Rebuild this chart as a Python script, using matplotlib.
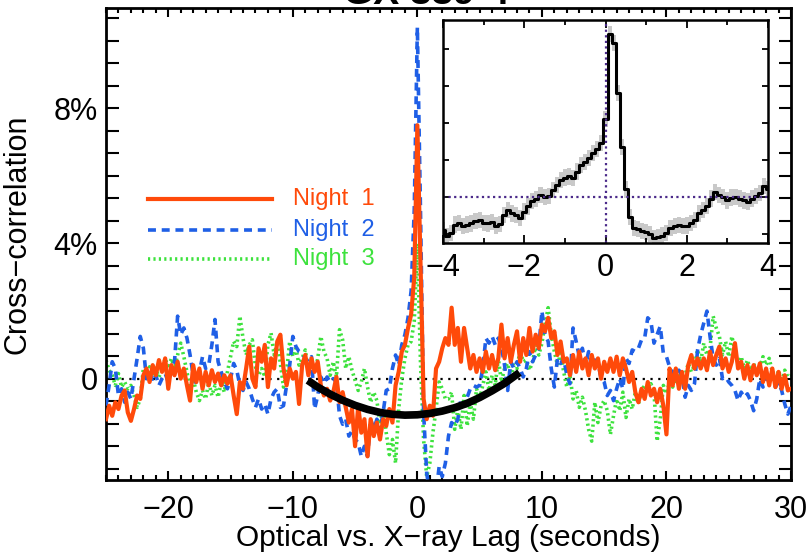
import numpy as np
import matplotlib
matplotlib.use("Agg")
import matplotlib.pyplot as plt
from matplotlib.ticker import MultipleLocator, FixedLocator, NullFormatter

plt.rcParams['font.family'] = ['Liberation Sans', 'DejaVu Sans']

# ---------------- data (cross-correlation, percent) ----------------
lag_start, lag_stop, lag_step = -25.0, 30.0, 0.25
lags = np.arange(lag_start, lag_stop + lag_step / 2, lag_step)

night1 = [
    -1.2, -0.8, -1.1, -0.7, -0.9, -0.5, -0.35, -1.0, -1.25, -0.9, -0.5, -0.6, 0.1, 0.3, -0.1, 0.4, 0.1, 0.55, 0.2, 0.6,
    -0.3, 0.4, 0.1, 0.5, 0.0, 0.3, -0.2, -0.65, 0.4, -0.1, 0.3, -0.3, 0.2, -0.2, 0.25, -0.1, 0.15, -0.2, 0.1, -0.15,
    0.1, -0.5, -1.05, -0.1, -0.3, 0.3, 0.95, 0.0, -0.25, 0.9, 0.5, 1.0, -0.25, 0.6, 0.3, 1.1, 1.3, 0.3, -0.2, 0.3,
    0.0, 0.2, -0.75, 0.4, 0.7, 0.1, 0.6, 0.2, 0.5, -0.2, -0.5, -0.3, -0.65, -0.4, 0.05, -0.7, -0.4, -0.85, -1.3, -0.9,
    -2.0, -0.8, -1.6, -1.2, -2.3, -1.2, -1.7, -1.3, -1.8, -1.2, -1.4, -0.9, -1.3, -0.2, 0.2, 0.8, 1.0, 1.5, 1.9, 3.0,
    7.5, 3.5, -0.6, -1.2, -0.8, -1.1, 0.3, 0.5, 0.9, 1.2, 1.0, 2.1, 1.0, 1.5, 0.5, 1.5, 0.9, 0.3, 0.7, 0.2,
    0.6, 0.2, 0.8, 0.3, 0.7, 0.25, 0.6, 1.6, 0.6, 1.2, 0.5, 1.0, 1.4, 0.5, 1.2, 0.7, 1.5, 0.8, 1.3, 0.9,
    1.6, 1.4, 1.8, 1.2, 1.4, 0.7, 1.1, 0.5, 0.6, 0.1, 0.7, 0.2, 0.8, 0.3, 0.6, 0.1, 0.7, 0.3, 0.6, 0.0,
    0.5, 0.2, 0.6, 0.2, 0.65, 0.1, 0.6, 0.3, -0.1, 0.2, -0.4, -0.7, -0.3, -0.6, -0.1, -0.5, -0.3, -0.7, -0.3, -0.8,
    -1.65, 0.3, -0.2, 0.3, -0.3, 0.2, -0.3, 0.4, 0.7, 0.3, 0.6, 0.3, 0.6, 0.25, 0.8, 0.4, 0.7, 0.95, 0.3, 0.6,
    0.2, 0.5, 1.05, 0.3, 0.5, 0.0, 0.4, -0.05, 0.4, 0.1, 0.45, -0.1, 0.3, -0.2, 0.3, -0.25, 0.2, -0.3, 0.1, -0.35,
    -0.3,
]

night2 = [
    -0.8, -0.2, 0.5, 0.3, -0.5, -0.3, -0.7, -0.4, -0.6, 0.0, 0.6, 1.25, 0.9, 0.0, 0.2, -0.1, 0.1, -0.2, 0.0, 0.15,
    -0.1, 0.2, 0.5, 1.85, 1.3, 1.5, 1.2, 0.7, 0.1, -0.15, 0.2, 0.65, 0.3, 0.4, 1.0, 1.75, 0.5, 0.2, -0.1, -0.3,
    0.0, 0.45, 0.25, -0.2, -0.35, -0.1, -0.3, -0.6, -0.85, -0.6, -0.9, -0.75, -1.05, -0.6, -0.4, -0.3, -0.85, -0.8, -0.2, 0.4,
    1.25, 0.95, 0.8, 0.75, 0.6, 0.5, 0.65, -0.9, -0.5, 0.05, -0.15, 0.05, -0.1, 0.0, -0.1, -1.1, -1.35, -1.2, -1.7, -1.55,
    -1.8, -1.9, -2.3, -2.0, -2.3, -1.2, -1.5, -1.2, -1.55, -1.0, -0.35, -0.3, 0.3, 0.7, 0.4, 1.0, 1.3, 1.8, 2.6, 5.0,
    10.4, 5.0, -1.0, -2.8, -3.4, -3.0, -3.4, -2.6, -2.9, -2.5, -1.7, -1.3, -1.4, -1.2, -0.6, -0.8, -0.55, -0.3, -0.2, -0.25,
    -0.2, 0.3, 1.2, 1.05, 1.25, 1.0, 1.2, 0.95, 0.4, -0.35, 0.5, 0.3, 0.5, 0.3, 0.05, 0.3, 0.8, 0.5, 0.7, 0.9,
    2.0, 1.3, 1.1, 0.3, -0.25, 0.6, 0.45, 0.6, 0.1, -0.15, 1.5, 1.1, 0.65, 0.9, 0.4, 0.8, 0.35, 0.55, 0.5, 0.0,
    -0.1, -0.5, -0.35, -0.65, -0.3, 0.0, -0.3, 0.6, 0.45, 0.85, 0.8, 0.9, 1.15, 1.2, 1.8, 1.7, 1.05, 1.3, 1.55, 0.75,
    0.65, 0.35, 0.2, 0.05, 0.25, 0.1, -0.55, -0.2, -0.35, -0.15, 0.85, 1.3, 1.65, 2.0, 1.25, 0.6, 0.4, 0.6, 0.0, 0.05,
    -0.1, -0.2, -0.35, -0.65, -0.4, -0.55, -0.45, -0.65, -0.95, -0.6, 0.0, -0.25, 0.05, -0.1, 0.1, -0.25, -0.1, -0.35, -0.75, -1.05,
    -0.8,
]

night3 = [
    0.55, 0.25, 0.1, -0.2, 0.15, -0.25, -0.1, -0.3, -0.2, -0.5, -0.85, -0.6, 0.3, 0.05, 0.35, 0.1, 0.3, 0.05, 0.25, 0.6,
    0.3, 0.6, 0.3, 0.7, 1.05, 0.65, 0.2, -0.3, 0.0, -0.4, -0.65, -0.35, -0.6, -0.1, -0.5, -0.2, -0.55, -0.1, -0.4, 0.2,
    0.65, 1.1, 0.95, 1.85, 1.2, 0.7, 1.0, 1.15, 0.35, 0.1, 0.3, 0.05, 1.0, 1.35, 0.7, 1.1, 0.45, -0.25, 0.2, 1.1,
    0.65, 0.9, 0.4, 0.6, 0.85, 0.2, 0.5, 0.15, 0.6, 1.25, 0.8, 0.6, 0.1, 0.5, 0.05, 1.45, 1.15, 0.3, 0.65, 0.25,
    -0.05, -0.35, -0.1, 0.3, -0.25, -0.7, -0.4, -0.65, -1.35, -0.9, -1.6, -2.25, -1.8, -2.5, -0.9, 0.0, 0.6, 1.0, 1.1, 1.7,
    4.0, 0.5, -1.8, -2.9, -2.5, -1.6, -0.9, -0.1, -0.3, -0.6, -0.6, -0.4, -1.5, -0.9, -1.5, -0.5, -1.4, -0.7, -1.2, -0.3,
    -0.6, -0.2, 0.2, -0.35, 0.1, -0.2, 0.6, -0.1, 0.3, 0.45, 0.05, 0.4, 0.3, 0.85, 0.5, 0.55, 0.25, 0.5, 1.0, 0.7,
    1.05, 1.6, 2.1, 1.3, 0.8, 0.4, 0.75, 0.2, -0.25, 0.1, -0.6, -0.35, -0.85, -0.55, -0.95, -1.5, -1.85, -0.7, -1.3, -0.8,
    -0.65, -0.95, -1.65, -1.1, -0.6, -0.95, -0.4, -1.15, -0.6, -0.9, -0.4, -0.75, -0.35, -0.2, -0.35, -0.15, -0.4, -1.85, -1.2, -0.2,
    -0.45, -0.1, -0.25, 0.0, 0.15, -0.15, 0.1, 0.45, 0.2, 0.4, 0.85, 0.5, 1.05, 0.7, 0.9, 1.85, 1.5, 1.25, 0.7, 1.1,
    0.65, 1.25, 0.85, 0.4, 0.65, 0.3, 0.55, 0.25, 0.45, 0.15, 0.35, 0.65, 0.4, 0.6, 0.2, -0.15, 0.25, -0.1, 0.25, 0.05,
    0.1,
]

# black arc drawn over the central dip
arc_lag = [-8.8, -8.0, -7.0, -6.0, -5.0, -4.0, -3.0, -2.0, -1.0, 0.0, 1.0, 2.0, 3.0, 4.0, 5.0, 6.0, 7.0, 8.2]
arc_ccf = [-0.05, -0.25, -0.46, -0.64, -0.79, -0.91, -1.0, -1.055, -1.08, -1.07, -1.03, -0.96, -0.86, -0.73, -0.56, -0.36, -0.14, 0.18]

# inset (arbitrary units)
inset_lag = [-4.0, -3.9, -3.8, -3.7, -3.6, -3.5, -3.4, -3.3, -3.2, -3.1,
             -3.0, -2.9, -2.8, -2.7, -2.6, -2.5, -2.4, -2.3, -2.2, -2.1,
             -2.0, -1.9, -1.8, -1.7, -1.6, -1.5, -1.4, -1.3, -1.2, -1.1,
             -1.0, -0.9, -0.8, -0.7, -0.6, -0.5, -0.4, -0.3, -0.2, -0.1,
             0.0, 0.1, 0.2, 0.3, 0.4, 0.5, 0.6, 0.7, 0.8, 0.9,
             1.0, 1.1, 1.2, 1.3, 1.4, 1.5, 1.6, 1.7, 1.8, 1.9,
             2.0, 2.1, 2.2, 2.3, 2.4, 2.5, 2.6, 2.7, 2.8, 2.9,
             3.0, 3.1, 3.2, 3.3, 3.4, 3.5, 3.6, 3.7, 3.8, 3.9, 4.0]
inset_ccf = [-0.89, -1.07, -0.98, -0.75, -0.71, -0.8, -0.75, -0.72, -0.65, -0.62,
             -0.7, -0.72, -0.68, -0.78, -0.74, -0.5, -0.35, -0.45, -0.5, -0.58,
             -0.4, -0.26, -0.12, -0.06, 0.05, 0.0, 0.02, 0.19, 0.32, 0.46,
             0.52, 0.55, 0.5, 0.68, 0.85, 0.95, 1.05, 1.18, 1.3, 1.45,
             2.1, 4.4, 4.15, 2.8, 1.35, 0.2, -0.55, -0.85, -0.88, -0.92,
             -0.95, -1.0, -1.12, -1.1, -1.05, -0.98, -0.85, -0.8, -0.77, -0.8,
             -0.78, -0.7, -0.62, -0.45, -0.35, -0.25, -0.05, 0.12, 0.05, 0.0,
             -0.1, -0.02, 0.0, -0.05, -0.1, -0.13, -0.05, 0.02, 0.1, 0.3, 0.2]
inset_err = 0.22

series_labels = ["Night 1", "Night 2", "Night 3"]
xticks_main = [-20, -10, 0, 10, 20, 30]
yticks_main = [0, 4, 8]
yticklabels_main = ["0", "4%", "8%"]
inset_xticks = [-4, -2, 0, 2, 4]

# ---------------- styling ----------------
c1, c2, c3 = '#ff4a0a', '#1f5fe6', '#3de23d'
W, H = 808, 558
fig = plt.figure(figsize=(W / 100, H / 100), dpi=100)

L, R, B, T = 106, 791, 480, 8
ax = fig.add_axes([L / W, 1 - B / H, (R - L) / W, (B - T) / H])

ax.axhline(0, color='k', lw=1.6, ls=(0, (1, 2.5)), zorder=1)
ax.plot(lags, night3, color=c3, lw=2.6, ls=(0, (0.6, 0.9)), zorder=2)
ax.plot(lags, night2, color=c2, lw=2.6, ls=(0, (2.2, 1.6)), zorder=3)
ax.plot(lags, night1, color=c1, lw=3.0, zorder=4)
ax.plot(arc_lag, arc_ccf, color='k', lw=5.5, solid_capstyle='butt', zorder=5)

ax.set_xlim(-25, 30)
ax.set_ylim(-3.0, 10.97)
ax.xaxis.set_major_locator(FixedLocator(xticks_main))
ax.xaxis.set_minor_locator(MultipleLocator(1))
ax.set_yticks(yticks_main)
ax.set_yticklabels(yticklabels_main)
ax.yaxis.set_minor_locator(MultipleLocator(2 / 3))
ax.tick_params(axis='both', which='both', direction='in', top=True, right=True, width=1.5)
ax.tick_params(axis='x', which='major', length=6.5, labelsize=22, pad=11)
ax.tick_params(axis='x', which='minor', length=3.5)
ax.tick_params(axis='y', which='both', length=9, labelsize=22, pad=6)
for s in ax.spines.values():
    s.set_linewidth(2.0)

ax.set_xlabel("Optical vs. X\u2212ray Lag (seconds)", fontsize=21.5, va='top')
ax.xaxis.set_label_coords(0.5, -0.094)
ax.set_ylabel("Cross\u2212correlation", fontsize=22)
ax.yaxis.set_label_coords(-0.108, 0.52)

# legend drawn as lines + coloured text
leg_y = [0.595, 0.530, 0.468]
leg_styles = [dict(color=c1, lw=3.0), dict(color=c2, lw=2.6, ls=(0, (2.2, 1.6))),
              dict(color=c3, lw=2.6, ls=(0, (0.6, 0.9)))]
for lab, yy, st, col in zip(series_labels, leg_y, leg_styles, [c1, c2, c3]):
    ax.plot([0.0613, 0.2423], [yy, yy], transform=ax.transAxes, **st)
    ax.text(0.273, yy, lab.replace(" ", "  "), transform=ax.transAxes, color=col,
            fontsize=17, va='center', ha='left')

fig.text(0.528, 1 - 4 / H, "GX 339-4", ha='center', va='baseline', fontsize=28, fontweight='bold')

# ---------------- inset ----------------
iL, iR, iB, iT = 443, 768, 243, 20
axi = fig.add_axes([iL / W, 1 - iB / H, (iR - iL) / W, (iB - iT) / H])
ccf = np.array(inset_ccf)
axi.fill_between(inset_lag, ccf - inset_err, ccf + inset_err, step='mid', color='#c9c9c9', lw=0)
axi.plot(inset_lag, inset_ccf, color='k', lw=2.2, drawstyle='steps-mid')
axi.axhline(0, color='#4b2a8a', lw=1.6, ls=(0, (1, 1.5)))
axi.axvline(0, color='#4b2a8a', lw=1.6, ls=(0, (1, 1.5)))
axi.set_xlim(-4, 4)
axi.set_ylim(-1.25, 4.78)
axi.xaxis.set_major_locator(FixedLocator(inset_xticks))
axi.xaxis.set_minor_locator(MultipleLocator(1))
axi.yaxis.set_major_locator(MultipleLocator(1))
axi.yaxis.set_major_formatter(NullFormatter())
axi.tick_params(axis='both', which='both', direction='in', top=True, right=True, width=1.3)
axi.tick_params(axis='x', which='major', length=6, labelsize=22, pad=7)
axi.tick_params(axis='x', which='minor', length=3.5)
axi.tick_params(axis='y', which='major', length=4)
for s in axi.spines.values():
    s.set_linewidth(1.8)

fig.savefig("out.png", dpi=100)
